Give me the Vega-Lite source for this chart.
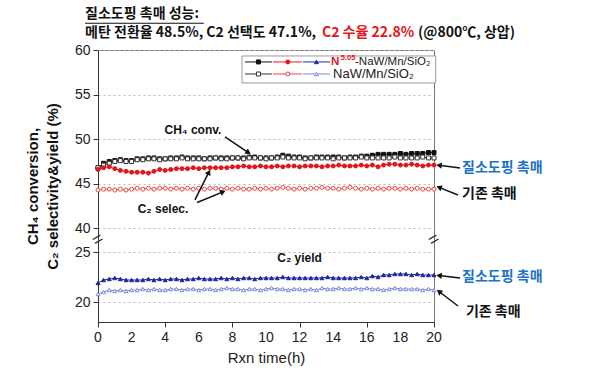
{
  "$schema": "https://vega.github.io/schema/vega-lite/v6.json",
  "width": 336,
  "height": 272,
  "autosize": "none",
  "padding": {"left": 98, "top": 50, "right": 166, "bottom": 57},
  "background": "white",
  "config": {
    "view": {"stroke": "#777777", "strokeWidth": 1},
    "font": "Liberation Sans"
  },
  "data": {"values": [
    {"t":0,"s":"NC","v":46.8},{"t":0.33,"s":"NC","v":47.3},{"t":0.67,"s":"NC","v":47.5},{"t":1,"s":"NC","v":47.6},{"t":1.33,"s":"NC","v":47.7},{"t":1.67,"s":"NC","v":47.6},{"t":2,"s":"NC","v":47.6},{"t":2.33,"s":"NC","v":47.8},{"t":2.67,"s":"NC","v":47.8},{"t":3,"s":"NC","v":47.9},{"t":3.33,"s":"NC","v":47.9},{"t":3.67,"s":"NC","v":47.8},{"t":4,"s":"NC","v":47.8},{"t":4.33,"s":"NC","v":47.9},{"t":4.67,"s":"NC","v":47.9},{"t":5,"s":"NC","v":48.0},{"t":5.33,"s":"NC","v":47.9},{"t":5.67,"s":"NC","v":47.9},{"t":6,"s":"NC","v":47.9},{"t":6.33,"s":"NC","v":47.8},{"t":6.67,"s":"NC","v":47.9},{"t":7,"s":"NC","v":47.9},{"t":7.33,"s":"NC","v":47.9},{"t":7.67,"s":"NC","v":47.9},{"t":8,"s":"NC","v":47.9},{"t":8.33,"s":"NC","v":47.9},{"t":8.67,"s":"NC","v":47.9},{"t":9,"s":"NC","v":48.0},{"t":9.33,"s":"NC","v":48.0},{"t":9.67,"s":"NC","v":47.9},{"t":10,"s":"NC","v":47.9},{"t":10.33,"s":"NC","v":47.9},{"t":10.67,"s":"NC","v":48.0},{"t":11,"s":"NC","v":48.2},{"t":11.33,"s":"NC","v":48.1},{"t":11.67,"s":"NC","v":48.0},{"t":12,"s":"NC","v":48.0},{"t":12.33,"s":"NC","v":47.9},{"t":12.67,"s":"NC","v":47.9},{"t":13,"s":"NC","v":48.0},{"t":13.33,"s":"NC","v":48.0},{"t":13.67,"s":"NC","v":48.0},{"t":14,"s":"NC","v":48.0},{"t":14.33,"s":"NC","v":48.0},{"t":14.67,"s":"NC","v":47.9},{"t":15,"s":"NC","v":48.0},{"t":15.33,"s":"NC","v":48.0},{"t":15.67,"s":"NC","v":48.1},{"t":16,"s":"NC","v":48.1},{"t":16.33,"s":"NC","v":48.2},{"t":16.67,"s":"NC","v":48.3},{"t":17,"s":"NC","v":48.3},{"t":17.33,"s":"NC","v":48.3},{"t":17.67,"s":"NC","v":48.3},{"t":18,"s":"NC","v":48.4},{"t":18.33,"s":"NC","v":48.3},{"t":18.67,"s":"NC","v":48.4},{"t":19,"s":"NC","v":48.4},{"t":19.33,"s":"NC","v":48.4},{"t":19.67,"s":"NC","v":48.5},{"t":20,"s":"NC","v":48.5},
    {"t":0,"s":"BC","v":46.8},{"t":0.33,"s":"BC","v":47.1},{"t":0.67,"s":"BC","v":47.3},{"t":1,"s":"BC","v":47.5},{"t":1.33,"s":"BC","v":47.6},{"t":1.67,"s":"BC","v":47.5},{"t":2,"s":"BC","v":47.5},{"t":2.33,"s":"BC","v":47.7},{"t":2.67,"s":"BC","v":47.7},{"t":3,"s":"BC","v":47.8},{"t":3.33,"s":"BC","v":47.8},{"t":3.67,"s":"BC","v":47.7},{"t":4,"s":"BC","v":47.8},{"t":4.33,"s":"BC","v":47.8},{"t":4.67,"s":"BC","v":47.8},{"t":5,"s":"BC","v":47.9},{"t":5.33,"s":"BC","v":47.8},{"t":5.67,"s":"BC","v":47.8},{"t":6,"s":"BC","v":47.8},{"t":6.33,"s":"BC","v":47.8},{"t":6.67,"s":"BC","v":47.8},{"t":7,"s":"BC","v":47.9},{"t":7.33,"s":"BC","v":47.8},{"t":7.67,"s":"BC","v":47.8},{"t":8,"s":"BC","v":47.9},{"t":8.33,"s":"BC","v":47.9},{"t":8.67,"s":"BC","v":47.8},{"t":9,"s":"BC","v":47.9},{"t":9.33,"s":"BC","v":47.9},{"t":9.67,"s":"BC","v":47.9},{"t":10,"s":"BC","v":47.8},{"t":10.33,"s":"BC","v":47.9},{"t":10.67,"s":"BC","v":47.9},{"t":11,"s":"BC","v":48.0},{"t":11.33,"s":"BC","v":47.9},{"t":11.67,"s":"BC","v":47.9},{"t":12,"s":"BC","v":47.9},{"t":12.33,"s":"BC","v":47.8},{"t":12.67,"s":"BC","v":47.9},{"t":13,"s":"BC","v":47.9},{"t":13.33,"s":"BC","v":47.9},{"t":13.67,"s":"BC","v":47.9},{"t":14,"s":"BC","v":47.8},{"t":14.33,"s":"BC","v":47.9},{"t":14.67,"s":"BC","v":47.9},{"t":15,"s":"BC","v":47.9},{"t":15.33,"s":"BC","v":47.9},{"t":15.67,"s":"BC","v":48.0},{"t":16,"s":"BC","v":47.9},{"t":16.33,"s":"BC","v":47.9},{"t":16.67,"s":"BC","v":47.9},{"t":17,"s":"BC","v":47.9},{"t":17.33,"s":"BC","v":47.9},{"t":17.67,"s":"BC","v":48.0},{"t":18,"s":"BC","v":47.9},{"t":18.33,"s":"BC","v":47.9},{"t":18.67,"s":"BC","v":47.9},{"t":19,"s":"BC","v":47.9},{"t":19.33,"s":"BC","v":48.0},{"t":19.67,"s":"BC","v":47.9},{"t":20,"s":"BC","v":47.9},
    {"t":0,"s":"NS","v":46.6},{"t":0.33,"s":"NS","v":46.8},{"t":0.67,"s":"NS","v":46.9},{"t":1,"s":"NS","v":46.7},{"t":1.33,"s":"NS","v":46.5},{"t":1.67,"s":"NS","v":46.4},{"t":2,"s":"NS","v":46.3},{"t":2.33,"s":"NS","v":46.3},{"t":2.67,"s":"NS","v":46.3},{"t":3,"s":"NS","v":46.2},{"t":3.33,"s":"NS","v":46.4},{"t":3.67,"s":"NS","v":46.6},{"t":4,"s":"NS","v":46.5},{"t":4.33,"s":"NS","v":46.6},{"t":4.67,"s":"NS","v":46.7},{"t":5,"s":"NS","v":46.7},{"t":5.33,"s":"NS","v":46.7},{"t":5.67,"s":"NS","v":46.8},{"t":6,"s":"NS","v":46.7},{"t":6.33,"s":"NS","v":46.8},{"t":6.67,"s":"NS","v":46.8},{"t":7,"s":"NS","v":46.8},{"t":7.33,"s":"NS","v":46.8},{"t":7.67,"s":"NS","v":46.8},{"t":8,"s":"NS","v":46.9},{"t":8.33,"s":"NS","v":46.9},{"t":8.67,"s":"NS","v":47.0},{"t":9,"s":"NS","v":46.9},{"t":9.33,"s":"NS","v":46.9},{"t":9.67,"s":"NS","v":47.0},{"t":10,"s":"NS","v":46.9},{"t":10.33,"s":"NS","v":46.9},{"t":10.67,"s":"NS","v":47.0},{"t":11,"s":"NS","v":46.9},{"t":11.33,"s":"NS","v":47.0},{"t":11.67,"s":"NS","v":47.0},{"t":12,"s":"NS","v":46.9},{"t":12.33,"s":"NS","v":47.0},{"t":12.67,"s":"NS","v":47.0},{"t":13,"s":"NS","v":47.0},{"t":13.33,"s":"NS","v":46.9},{"t":13.67,"s":"NS","v":47.0},{"t":14,"s":"NS","v":47.0},{"t":14.33,"s":"NS","v":47.1},{"t":14.67,"s":"NS","v":47.0},{"t":15,"s":"NS","v":47.0},{"t":15.33,"s":"NS","v":47.0},{"t":15.67,"s":"NS","v":47.1},{"t":16,"s":"NS","v":47.0},{"t":16.33,"s":"NS","v":47.1},{"t":16.67,"s":"NS","v":46.9},{"t":17,"s":"NS","v":47.1},{"t":17.33,"s":"NS","v":47.2},{"t":17.67,"s":"NS","v":47.2},{"t":18,"s":"NS","v":47.1},{"t":18.33,"s":"NS","v":47.1},{"t":18.67,"s":"NS","v":47.2},{"t":19,"s":"NS","v":47.1},{"t":19.33,"s":"NS","v":47.0},{"t":19.67,"s":"NS","v":47.1},{"t":20,"s":"NS","v":47.1},
    {"t":0,"s":"BS","v":44.3},{"t":0.33,"s":"BS","v":44.4},{"t":0.67,"s":"BS","v":44.4},{"t":1,"s":"BS","v":44.3},{"t":1.33,"s":"BS","v":44.4},{"t":1.67,"s":"BS","v":44.3},{"t":2,"s":"BS","v":44.4},{"t":2.33,"s":"BS","v":44.5},{"t":2.67,"s":"BS","v":44.4},{"t":3,"s":"BS","v":44.5},{"t":3.33,"s":"BS","v":44.4},{"t":3.67,"s":"BS","v":44.5},{"t":4,"s":"BS","v":44.5},{"t":4.33,"s":"BS","v":44.4},{"t":4.67,"s":"BS","v":44.5},{"t":5,"s":"BS","v":44.4},{"t":5.33,"s":"BS","v":44.5},{"t":5.67,"s":"BS","v":44.4},{"t":6,"s":"BS","v":44.5},{"t":6.33,"s":"BS","v":44.4},{"t":6.67,"s":"BS","v":44.5},{"t":7,"s":"BS","v":44.5},{"t":7.33,"s":"BS","v":44.4},{"t":7.67,"s":"BS","v":44.5},{"t":8,"s":"BS","v":44.4},{"t":8.33,"s":"BS","v":44.5},{"t":8.67,"s":"BS","v":44.4},{"t":9,"s":"BS","v":44.4},{"t":9.33,"s":"BS","v":44.5},{"t":9.67,"s":"BS","v":44.4},{"t":10,"s":"BS","v":44.5},{"t":10.33,"s":"BS","v":44.4},{"t":10.67,"s":"BS","v":44.5},{"t":11,"s":"BS","v":44.6},{"t":11.33,"s":"BS","v":44.5},{"t":11.67,"s":"BS","v":44.4},{"t":12,"s":"BS","v":44.5},{"t":12.33,"s":"BS","v":44.4},{"t":12.67,"s":"BS","v":44.5},{"t":13,"s":"BS","v":44.5},{"t":13.33,"s":"BS","v":44.6},{"t":13.67,"s":"BS","v":44.5},{"t":14,"s":"BS","v":44.5},{"t":14.33,"s":"BS","v":44.4},{"t":14.67,"s":"BS","v":44.5},{"t":15,"s":"BS","v":44.6},{"t":15.33,"s":"BS","v":44.5},{"t":15.67,"s":"BS","v":44.4},{"t":16,"s":"BS","v":44.5},{"t":16.33,"s":"BS","v":44.4},{"t":16.67,"s":"BS","v":44.5},{"t":17,"s":"BS","v":44.4},{"t":17.33,"s":"BS","v":44.5},{"t":17.67,"s":"BS","v":44.5},{"t":18,"s":"BS","v":44.4},{"t":18.33,"s":"BS","v":44.5},{"t":18.67,"s":"BS","v":44.4},{"t":19,"s":"BS","v":44.5},{"t":19.33,"s":"BS","v":44.4},{"t":19.67,"s":"BS","v":44.4},{"t":20,"s":"BS","v":44.4},
    {"t":0,"s":"NY","v":21.9},{"t":0.33,"s":"NY","v":22.2},{"t":0.67,"s":"NY","v":22.3},{"t":1,"s":"NY","v":22.4},{"t":1.33,"s":"NY","v":22.3},{"t":1.67,"s":"NY","v":22.2},{"t":2,"s":"NY","v":22.2},{"t":2.33,"s":"NY","v":22.2},{"t":2.67,"s":"NY","v":22.2},{"t":3,"s":"NY","v":22.3},{"t":3.33,"s":"NY","v":22.2},{"t":3.67,"s":"NY","v":22.3},{"t":4,"s":"NY","v":22.2},{"t":4.33,"s":"NY","v":22.3},{"t":4.67,"s":"NY","v":22.3},{"t":5,"s":"NY","v":22.2},{"t":5.33,"s":"NY","v":22.3},{"t":5.67,"s":"NY","v":22.3},{"t":6,"s":"NY","v":22.4},{"t":6.33,"s":"NY","v":22.3},{"t":6.67,"s":"NY","v":22.3},{"t":7,"s":"NY","v":22.3},{"t":7.33,"s":"NY","v":22.4},{"t":7.67,"s":"NY","v":22.3},{"t":8,"s":"NY","v":22.4},{"t":8.33,"s":"NY","v":22.3},{"t":8.67,"s":"NY","v":22.4},{"t":9,"s":"NY","v":22.4},{"t":9.33,"s":"NY","v":22.3},{"t":9.67,"s":"NY","v":22.4},{"t":10,"s":"NY","v":22.4},{"t":10.33,"s":"NY","v":22.4},{"t":10.67,"s":"NY","v":22.4},{"t":11,"s":"NY","v":22.5},{"t":11.33,"s":"NY","v":22.4},{"t":11.67,"s":"NY","v":22.4},{"t":12,"s":"NY","v":22.4},{"t":12.33,"s":"NY","v":22.4},{"t":12.67,"s":"NY","v":22.4},{"t":13,"s":"NY","v":22.4},{"t":13.33,"s":"NY","v":22.4},{"t":13.67,"s":"NY","v":22.5},{"t":14,"s":"NY","v":22.4},{"t":14.33,"s":"NY","v":22.4},{"t":14.67,"s":"NY","v":22.4},{"t":15,"s":"NY","v":22.4},{"t":15.33,"s":"NY","v":22.4},{"t":15.67,"s":"NY","v":22.5},{"t":16,"s":"NY","v":22.4},{"t":16.33,"s":"NY","v":22.6},{"t":16.67,"s":"NY","v":22.5},{"t":17,"s":"NY","v":22.7},{"t":17.33,"s":"NY","v":22.7},{"t":17.67,"s":"NY","v":22.8},{"t":18,"s":"NY","v":22.8},{"t":18.33,"s":"NY","v":22.8},{"t":18.67,"s":"NY","v":22.7},{"t":19,"s":"NY","v":22.8},{"t":19.33,"s":"NY","v":22.7},{"t":19.67,"s":"NY","v":22.7},{"t":20,"s":"NY","v":22.7},
    {"t":0,"s":"BY","v":20.8},{"t":0.33,"s":"BY","v":21.0},{"t":0.67,"s":"BY","v":21.2},{"t":1,"s":"BY","v":21.1},{"t":1.33,"s":"BY","v":21.2},{"t":1.67,"s":"BY","v":21.1},{"t":2,"s":"BY","v":21.2},{"t":2.33,"s":"BY","v":21.2},{"t":2.67,"s":"BY","v":21.3},{"t":3,"s":"BY","v":21.2},{"t":3.33,"s":"BY","v":21.3},{"t":3.67,"s":"BY","v":21.2},{"t":4,"s":"BY","v":21.2},{"t":4.33,"s":"BY","v":21.3},{"t":4.67,"s":"BY","v":21.3},{"t":5,"s":"BY","v":21.2},{"t":5.33,"s":"BY","v":21.3},{"t":5.67,"s":"BY","v":21.3},{"t":6,"s":"BY","v":21.2},{"t":6.33,"s":"BY","v":21.3},{"t":6.67,"s":"BY","v":21.3},{"t":7,"s":"BY","v":21.2},{"t":7.33,"s":"BY","v":21.3},{"t":7.67,"s":"BY","v":21.4},{"t":8,"s":"BY","v":21.3},{"t":8.33,"s":"BY","v":21.3},{"t":8.67,"s":"BY","v":21.2},{"t":9,"s":"BY","v":21.3},{"t":9.33,"s":"BY","v":21.3},{"t":9.67,"s":"BY","v":21.2},{"t":10,"s":"BY","v":21.3},{"t":10.33,"s":"BY","v":21.4},{"t":10.67,"s":"BY","v":21.3},{"t":11,"s":"BY","v":21.3},{"t":11.33,"s":"BY","v":21.2},{"t":11.67,"s":"BY","v":21.3},{"t":12,"s":"BY","v":21.3},{"t":12.33,"s":"BY","v":21.2},{"t":12.67,"s":"BY","v":21.3},{"t":13,"s":"BY","v":21.2},{"t":13.33,"s":"BY","v":21.4},{"t":13.67,"s":"BY","v":21.3},{"t":14,"s":"BY","v":21.3},{"t":14.33,"s":"BY","v":21.4},{"t":14.67,"s":"BY","v":21.3},{"t":15,"s":"BY","v":21.3},{"t":15.33,"s":"BY","v":21.4},{"t":15.67,"s":"BY","v":21.3},{"t":16,"s":"BY","v":21.4},{"t":16.33,"s":"BY","v":21.3},{"t":16.67,"s":"BY","v":21.3},{"t":17,"s":"BY","v":21.2},{"t":17.33,"s":"BY","v":21.3},{"t":17.67,"s":"BY","v":21.4},{"t":18,"s":"BY","v":21.3},{"t":18.33,"s":"BY","v":21.3},{"t":18.67,"s":"BY","v":21.3},{"t":19,"s":"BY","v":21.3},{"t":19.33,"s":"BY","v":21.2},{"t":19.67,"s":"BY","v":21.3},{"t":20,"s":"BY","v":21.2}
  ]},
  "layer": [
    {
      "mark": {"type": "line", "strokeWidth": 1, "clip": false},
      "encoding": {
        "x": {"field": "t", "type": "quantitative",
          "scale": {"domain": [0, 20], "nice": false, "zero": false},
          "axis": {"title": "Rxn time(h)", "values": [0,1,2,3,4,5,6,7,8,9,10,11,12,13,14,15,16,17,18,19,20],
            "grid": false, "labels": false, "tickSize": 5,
            "titleFontSize": 15, "titleFontWeight": "normal", "titleColor": "#222222", "titlePadding": 23,
            "domainColor": "#333333", "tickColor": "#333333"}},
        "y": {"field": "v", "type": "quantitative",
          "scale": {"domain": [18, 26.2, 38.7, 60], "range": [272, 190, 190, 0], "nice": false, "zero": false},
          "axis": {"title": ["CH₄ conversion,", "C₂ selectivity&yield (%)"], "values": [20, 25, 40, 45, 50, 55, 60],
            "grid": true, "gridDash": [2, 3], "gridColor": "#bbbbbb", "labelOverlap": false,
            "labelFontSize": 14, "labelColor": "#222222", "tickSize": 5, "labelPadding": 3,
            "titleFontSize": 15, "titleFontWeight": "bold", "titleColor": "#111111", "titlePadding": 14, "titleLineHeight": 20,
            "domainColor": "#333333", "tickColor": "#333333"}},
        "color": {"field": "s", "type": "nominal", "legend": null,
          "scale": {"domain": ["NC","NS","NY","BC","BS","BY"], "range": ["#111111","#e3141b","#1d2b9c","#333333","#e84848","#7d88d8"]}}
      }
    },
    {
      "mark": {"type": "point", "size": 16, "strokeWidth": 1, "opacity": 1, "fillOpacity": 1},
      "encoding": {
        "x": {"field": "t", "type": "quantitative"},
        "y": {"field": "v", "type": "quantitative"},
        "shape": {"field": "s", "type": "nominal", "legend": null,
          "scale": {"domain": ["NC","NS","NY","BC","BS","BY"], "range": ["square","circle","triangle-up","square","circle","triangle-up"]}},
        "stroke": {"field": "s", "type": "nominal", "legend": null,
          "scale": {"domain": ["NC","NS","NY","BC","BS","BY"], "range": ["#111111","#e3141b","#1d2b9c","#333333","#e84848","#7d88d8"]}},
        "fill": {"field": "s", "type": "nominal", "legend": null,
          "scale": {"domain": ["NC","NS","NY","BC","BS","BY"], "range": ["#111111","#e3141b","#1d2b9c","#ffffff","#ffffff","#ffffff"]}}
      }
    },
    {
      "data": {"values": [{"t": 0}, {"t": 2}, {"t": 4}, {"t": 6}, {"t": 8}, {"t": 10}, {"t": 12}, {"t": 14}, {"t": 16}, {"t": 18}, {"t": 20}]},
      "mark": {"type": "text", "baseline": "top", "align": "center", "dy": 9, "fontSize": 14, "color": "#222222", "font": "Liberation Sans"},
      "encoding": {
        "x": {"field": "t", "type": "quantitative"},
        "y": {"datum": 18, "type": "quantitative"},
        "text": {"field": "t", "type": "quantitative"}
      }
    },
    {
      "data": {"values": [{"t": 8.57, "b": 20.1, "c": 59.33, "d": 56.3}]},
      "mark": {"type": "rect", "fill": "white", "stroke": "#999999", "strokeWidth": 1},
      "encoding": {
        "x": {"field": "t", "type": "quantitative"}, "x2": {"field": "b"},
        "y": {"field": "c", "type": "quantitative"}, "y2": {"field": "d"}
      }
    },
    {
      "data": {"values": [
        {"t": 8.75, "t1": 10.36, "v": 58.66, "s": "NC"}, {"t": 10.42, "t1": 12.14, "v": 58.66, "s": "NS"}, {"t": 12.2, "t1": 13.81, "v": 58.66, "s": "NY"},
        {"t": 8.75, "t1": 10.36, "v": 57.31, "s": "BC"}, {"t": 10.42, "t1": 12.14, "v": 57.31, "s": "BS"}, {"t": 12.2, "t1": 13.81, "v": 57.31, "s": "BY"}
      ]},
      "mark": {"type": "rule", "strokeWidth": 1},
      "encoding": {
        "x": {"field": "t", "type": "quantitative"}, "x2": {"field": "t1"},
        "y": {"field": "v", "type": "quantitative"},
        "color": {"field": "s", "type": "nominal", "legend": null}
      }
    },
    {
      "data": {"values": [
        {"t": 9.55, "v": 58.66, "s": "NC"}, {"t": 11.3, "v": 58.66, "s": "NS"}, {"t": 13.0, "v": 58.66, "s": "NY"},
        {"t": 9.55, "v": 57.31, "s": "BC"}, {"t": 11.3, "v": 57.31, "s": "BS"}, {"t": 13.0, "v": 57.31, "s": "BY"}
      ]},
      "mark": {"type": "point", "size": 16, "strokeWidth": 1, "opacity": 1, "fillOpacity": 1},
      "encoding": {
        "x": {"field": "t", "type": "quantitative"},
        "y": {"field": "v", "type": "quantitative"},
        "shape": {"field": "s", "type": "nominal", "legend": null},
        "stroke": {"field": "s", "type": "nominal", "legend": null},
        "fill": {"field": "s", "type": "nominal", "legend": null}
      }
    },
    {
      "data": {"values": [{"t": 13.87, "v": 58.66, "label": "N"}]},
      "mark": {"type": "text", "align": "left", "baseline": "middle", "fontSize": 11.5, "fontWeight": "bold", "color": "#e3141b", "font": "Liberation Sans"},
      "encoding": {"x": {"field": "t", "type": "quantitative"}, "y": {"field": "v", "type": "quantitative"}, "text": {"field": "label"}}
    },
    {
      "data": {"values": [{"t": 14.45, "v": 59.15, "label": "5.05"}]},
      "mark": {"type": "text", "align": "left", "baseline": "middle", "fontSize": 7.5, "fontWeight": "bold", "color": "#e3141b", "font": "Liberation Sans"},
      "encoding": {"x": {"field": "t", "type": "quantitative"}, "y": {"field": "v", "type": "quantitative"}, "text": {"field": "label"}}
    },
    {
      "data": {"values": [{"t": 15.3, "v": 58.66, "label": "-NaW/Mn/SiO₂"}]},
      "mark": {"type": "text", "align": "left", "baseline": "middle", "fontSize": 11.5, "color": "#222222", "font": "Liberation Sans"},
      "encoding": {"x": {"field": "t", "type": "quantitative"}, "y": {"field": "v", "type": "quantitative"}, "text": {"field": "label"}}
    },
    {
      "data": {"values": [{"t": 13.99, "v": 57.31, "label": "NaW/Mn/SiO₂"}]},
      "mark": {"type": "text", "align": "left", "baseline": "middle", "fontSize": 13, "color": "#222222", "font": "Liberation Sans"},
      "encoding": {"x": {"field": "t", "type": "quantitative"}, "y": {"field": "v", "type": "quantitative"}, "text": {"field": "label"}}
    },
    {
      "data": {"values": [
        {"t": 7.56, "v": 50.25, "te": 8.95, "ve": 48.5},
        {"t": 5.77, "v": 43.19, "te": 6.6, "ve": 46.3},
        {"t": 5.9, "v": 42.9, "te": 7.44, "ve": 44.1},
        {"t": 21.55, "v": 46.78, "te": 20.3, "ve": 47.08},
        {"t": 21.43, "v": 43.75, "te": 20.3, "ve": 44.6},
        {"t": 21.55, "v": 22.4, "te": 20.3, "ve": 22.65},
        {"t": 21.43, "v": 19.6, "te": 20.3, "ve": 21.05}
      ]},
      "mark": {"type": "rule", "strokeWidth": 1.5, "color": "#111111"},
      "encoding": {
        "x": {"field": "t", "type": "quantitative"}, "x2": {"field": "te"},
        "y": {"field": "v", "type": "quantitative"}, "y2": {"field": "ve"}
      }
    },
    {
      "data": {"values": [
        {"t": 8.95, "v": 48.5, "t0": 7.56, "v0": 50.25},
        {"t": 6.6, "v": 46.3, "t0": 5.77, "v0": 43.19},
        {"t": 7.44, "v": 44.1, "t0": 5.9, "v0": 42.9},
        {"t": 20.3, "v": 47.08, "t0": 21.55, "v0": 46.78},
        {"t": 20.3, "v": 44.6, "t0": 21.43, "v0": 43.75},
        {"t": 20.3, "v": 22.65, "t0": 21.55, "v0": 22.4},
        {"t": 20.3, "v": 21.05, "t0": 21.43, "v0": 19.6}
      ]},
      "mark": {"type": "point", "shape": "triangle-up", "size": 40, "filled": true, "color": "#111111", "opacity": 1},
      "encoding": {
        "x": {"field": "t", "type": "quantitative"},
        "y": {"field": "v", "type": "quantitative"},
        "angle": {"value": {"expr": "atan2(scale('x', datum.t) - scale('x', datum.t0), scale('y', datum.v0) - scale('y', datum.v)) * 180 / PI"}}
      }
    },
    {
      "data": {"values": [
        {"t": 5.65, "v": 51.04, "label": "CH₄ conv."},
        {"t": 3.87, "v": 42.19, "label": "C₂ selec."},
        {"t": 12.0, "v": 24.4, "label": "C₂ yield"}
      ]},
      "mark": {"type": "text", "align": "center", "baseline": "middle", "fontSize": 12, "fontWeight": "bold", "color": "#111111", "font": "Liberation Sans"},
      "encoding": {"x": {"field": "t", "type": "quantitative"}, "y": {"field": "v", "type": "quantitative"}, "text": {"field": "label"}}
    },
    {
      "data": {"values": [
        {"t": 21.67, "v": 46.78, "label": "질소도핑 촉매"},
        {"t": 21.67, "v": 22.5, "label": "질소도핑 촉매"}
      ]},
      "mark": {"type": "text", "align": "left", "baseline": "middle", "fontSize": 14, "fontWeight": "bold", "color": "#1c72c4", "font": "Noto Sans CJK KR"},
      "encoding": {"x": {"field": "t", "type": "quantitative"}, "y": {"field": "v", "type": "quantitative"}, "text": {"field": "label"}}
    },
    {
      "data": {"values": [
        {"t": 21.67, "v": 43.87, "label": "기존 촉매"},
        {"t": 21.9, "v": 19.0, "label": "기존 촉매"}
      ]},
      "mark": {"type": "text", "align": "left", "baseline": "middle", "fontSize": 14, "fontWeight": "bold", "color": "#111111", "font": "Noto Sans CJK KR"},
      "encoding": {"x": {"field": "t", "type": "quantitative"}, "y": {"field": "v", "type": "quantitative"}, "text": {"field": "label"}}
    },
    {
      "data": {"values": [{"t": 0, "v": 32}, {"t": 20, "v": 32}]},
      "mark": {"type": "text", "text": "=", "fontSize": 18, "angle": 330, "baseline": "middle", "align": "center", "color": "#333333", "font": "Liberation Sans"},
      "encoding": {"x": {"field": "t", "type": "quantitative"}, "y": {"field": "v", "type": "quantitative"}}
    },
    {
      "data": {"values": [
        {"t": -0.77, "v": 64.03, "label": "질소도핑 촉매 성능:"}
      ]},
      "mark": {"type": "text", "align": "left", "baseline": "middle", "fontSize": 14, "fontWeight": "bold", "color": "#111111", "font": "Noto Sans CJK KR"},
      "encoding": {"x": {"field": "t", "type": "quantitative"}, "y": {"field": "v", "type": "quantitative"}, "text": {"field": "label"}}
    },
    {
      "data": {"values": [{"t": -0.77, "t1": 6.3, "v": 63.0}]},
      "mark": {"type": "rule", "strokeWidth": 1.2, "color": "#111111"},
      "encoding": {"x": {"field": "t", "type": "quantitative"}, "x2": {"field": "t1"}, "y": {"field": "v", "type": "quantitative"}}
    },
    {
      "data": {"values": [
        {"t": -0.77, "v": 61.9, "label": "메탄 전환율 48.5%, C2 선택도 47.1%,"},
        {"t": 19.05, "v": 61.9, "label": "(@800℃, 상압)"}
      ]},
      "mark": {"type": "text", "align": "left", "baseline": "middle", "fontSize": 14, "fontWeight": "bold", "color": "#111111", "font": "Noto Sans CJK KR"},
      "encoding": {"x": {"field": "t", "type": "quantitative"}, "y": {"field": "v", "type": "quantitative"}, "text": {"field": "label"}}
    },
    {
      "data": {"values": [{"t": 13.33, "v": 61.9, "label": "C2 수율 22.8%"}]},
      "mark": {"type": "text", "align": "left", "baseline": "middle", "fontSize": 14, "fontWeight": "bold", "color": "#e3141b", "font": "Noto Sans CJK KR"},
      "encoding": {"x": {"field": "t", "type": "quantitative"}, "y": {"field": "v", "type": "quantitative"}, "text": {"field": "label"}}
    }
  ]
}
